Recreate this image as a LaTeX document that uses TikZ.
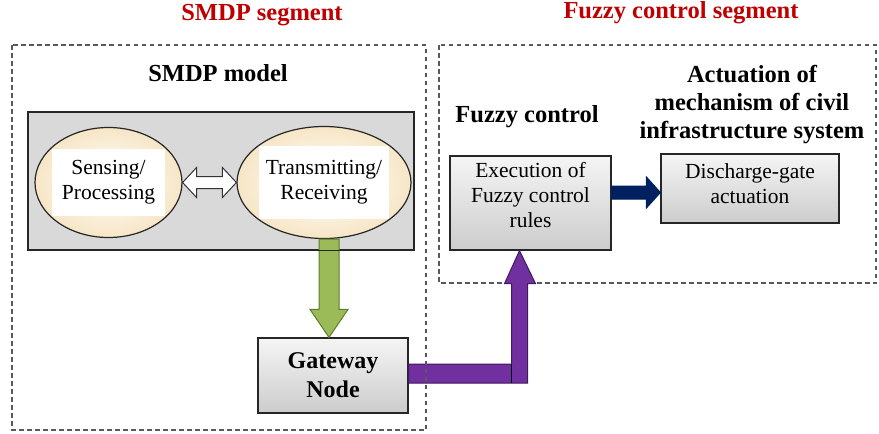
\documentclass[tikz,border=0pt]{standalone}
\usepackage{fontspec}
\setmainfont{Liberation Serif}
\usepackage{xcolor}
\usepackage{tikz}
\usetikzlibrary{arrows.meta, positioning, calc, shapes.geometric}

\definecolor{segred}{HTML}{C00000}
\definecolor{cream}{HTML}{F7E6C6}
\definecolor{leafgreen}{HTML}{9BBB59}
\definecolor{leafdark}{HTML}{5E7A2E}
\definecolor{plum}{HTML}{7030A0}
\definecolor{plumdark}{HTML}{3F1A5C}
\definecolor{navy}{HTML}{002060}

\begin{document}
\begin{tikzpicture}[x=1pt, y=-1pt,
  every node/.style={font=\rmfamily\fontsize{21.5}{25}\selectfont},
  segtitle/.style={font=\rmfamily\fontsize{24.5}{28}\selectfont\bfseries, text=segred},
  heading/.style={font=\rmfamily\fontsize{24.5}{28}\selectfont\bfseries, align=center},
  segbox/.style={draw=black!65, line width=1.1pt, dash pattern=on 4.5pt off 3.5pt},
  block/.style={draw=black!85, line width=1.2pt, top color=black!4, bottom color=black!20, align=center},
  oval/.style={ellipse, draw=black!85, line width=1.2pt, inner color=white, outer color=cream},
  txtbg/.style={fill=white, align=center, inner sep=0pt},
  dblarrow/.style={draw=black!80, line width=1pt, fill=white},
  greenarrow/.style={draw=leafdark, line width=1pt, fill=leafgreen},
  plumarrow/.style={draw=plumdark, line width=1pt, fill=plum},
  navyarrow/.style={draw=navy, line width=1pt, fill=navy}]
  \useasboundingbox (0,0) rectangle (879,434);
  % ---------- SMDP SEGMENT ----------
  \node[segtitle] (smdptitle) at (262,15) {SMDP segment};
  \node[heading] (smdphead) at (218,73) {SMDP model};
  \node[draw=black!85, line width=1.2pt, fill=black!15, minimum width=386pt, minimum height=138pt] (model) at (221,181) {};
  \node[oval, minimum width=147pt, minimum height=110pt] (sense) at (108.5,182.5) {};
  \node[oval, minimum width=174pt, minimum height=112pt] (trx) at (324,182.5) {};
  \node[txtbg, minimum width=113pt, minimum height=67pt] (sensetxt) at (sense) {Sensing/\\Processing};
  \node[txtbg, minimum width=130pt, minimum height=73pt] (trxtxt) at (trx) {Transmitting/\\Receiving};
  \draw[dblarrow] (sense.east) -- ++(14,-15) -- ++(0,9) -- ($(trx.west)+(-14,-6)$) -- ++(0,-9)
    -- (trx.west) -- ++(-14,15) -- ++(0,-9) -- ($(sense.east)+(14,6)$) -- ++(0,9) -- cycle;
  \node[block, font=\rmfamily\fontsize{24}{29}\selectfont\bfseries, minimum width=150pt, minimum height=75pt] (gate) at (333,375.5) {Gateway\\Node};
  % green link down to the gateway
  \coordinate (gtip) at ($(gate.north)+(-4,0)$);
  \coordinate (gtop) at (gtip |- trx.south);
  \draw[greenarrow] ($(gtop)+(-10,0)$) -- ($(gtip)+(-10,-28)$) -- ($(gtip)+(-19,-28)$) -- (gtip)
    -- ($(gtip)+(19,-28)$) -- ($(gtip)+(10,-28)$) -- ($(gtop)+(10,0)$) -- cycle;
  \draw[draw=black!85, line width=1.2pt] (model.south west) -- (model.south east);
  % ---------- FUZZY SEGMENT ----------
  \draw[segbox] (439,45) rectangle (876,283);
  \node[segtitle] (fuzzytitle) at (681,13) {Fuzzy control segment};
  \node[heading] (fuzzyhead) at (527,117) {Fuzzy control};
  \node[heading] (acthead) at (752,105) {Actuation of\\mechanism of civil\\infrastructure system};
  \node[block, text depth=17pt, minimum width=161pt, minimum height=94pt] (exec) at (530.5,203) {Execution of\\Fuzzy control\\rules};
  \node[block, text depth=10pt, minimum width=178pt, minimum height=69pt] (disc) at (750,188.5) {Discharge-gate\\actuation};
  % navy arrow to the actuation
  \coordinate (ntip) at ($(disc.west)+(0,4)$);
  \coordinate (nstart) at (exec.east |- ntip);
  \draw[navyarrow] ($(nstart)+(0,-6.5)$) -- ($(ntip)+(-14,-6.5)$) -- ($(ntip)+(-14,-15.5)$) -- (ntip)
    -- ($(ntip)+(-14,15.5)$) -- ($(ntip)+(-14,6.5)$) -- ($(nstart)+(0,6.5)$) -- cycle;
  % purple arrow from gateway up to fuzzy control
  \coordinate (ptip) at ($(exec.south)+(-11,0)$);
  \coordinate (pbend) at (ptip |- gate.east);
  \draw[plumarrow] ($(gate.east)+(0,-11.5)$) -- ($(pbend)+(-8,-11.5)$) -- ($(ptip)+(-8,33)$) -- ($(ptip)+(-15,33)$)
    -- (ptip) -- ($(ptip)+(16,33)$) -- ($(ptip)+(8,33)$) -- ($(pbend)+(8,7.5)$) -- ($(gate.east)+(0,7.5)$) -- cycle;
  \draw[black, line width=1pt] ($(pbend)+(-8,-11.5)$) -- ($(pbend)+(-8,7.5)$);
  \draw[segbox] (12,45) rectangle (426,430);
\end{tikzpicture}
\end{document}
